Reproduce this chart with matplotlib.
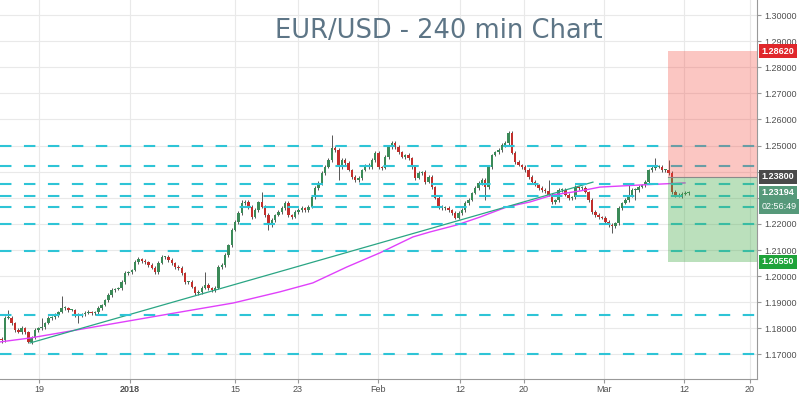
import numpy as np
import matplotlib
matplotlib.use('Agg')
import matplotlib.pyplot as plt
import matplotlib.transforms as mtransforms

# 240-min EUR/USD bars, closes (one value per ~8h)
first_open = 1.1760
closes = [
    1.1755, 1.1840, 1.1840, 1.1820, 1.1794, 1.1786, 1.1801, 1.1786, 1.1748, 1.1763,
    1.1794, 1.1801, 1.1805, 1.1820, 1.1840, 1.1843, 1.1851, 1.1862, 1.1878, 1.1878,
    1.1870, 1.1870, 1.1851, 1.1851, 1.1855, 1.1859, 1.1862, 1.1859, 1.1862, 1.1878,
    1.1889, 1.1908, 1.1928, 1.1947, 1.1951, 1.1954, 1.1977, 1.2012, 1.2016, 1.2023,
    1.2054, 1.2066, 1.2058, 1.2054, 1.2043, 1.2031, 1.2016, 1.2050, 1.2073, 1.2073,
    1.2062, 1.2050, 1.2035,
    1.2031,
    1.2012, 1.1977, 1.1977, 1.1958, 1.1935, 1.1939, 1.1954, 1.1966, 1.1954, 1.1947,
    1.1954, 1.2035, 1.2043, 1.2081, 1.2119, 1.2177, 1.2207, 1.2242, 1.2280, 1.2284,
    1.2265, 1.2226, 1.2253, 1.2284, 1.2265, 1.2234, 1.2196, 1.2215, 1.2234, 1.2246,
    1.2261, 1.2280, 1.2234, 1.2226, 1.2246, 1.2253, 1.2261, 1.2253, 1.2265, 1.2303,
    1.2337, 1.2357, 1.2395, 1.2418, 1.2445, 1.2491, 1.2483, 1.2418, 1.2445,
    1.2433, 1.2406, 1.2380, 1.2368, 1.2376, 1.2406, 1.2426, 1.2418, 1.2445, 1.2472,
    1.2418, 1.2414, 1.2456, 1.2494, 1.2510, 1.2494, 1.2475, 1.2456, 1.2464, 1.2452,
    1.2418, 1.2376, 1.2395, 1.2399, 1.2361, 1.2380, 1.2341, 1.2299, 1.2265, 1.2261,
    1.2261, 1.2253, 1.2242, 1.2223, 1.2242, 1.2253, 1.2280, 1.2292, 1.2318, 1.2337,
    1.2357, 1.2368, 1.2341, 1.2418, 1.2464, 1.2475, 1.2483, 1.2502, 1.2510, 1.2548,
    1.2472,
    1.2437, 1.2426, 1.2418, 1.2406, 1.2380, 1.2361, 1.2349, 1.2337, 1.2330, 1.2326,
    1.2311, 1.2284, 1.2292, 1.2330, 1.2330, 1.2311, 1.2299, 1.2303, 1.2341, 1.2337,
    1.2337, 1.2322, 1.2292, 1.2246, 1.2234, 1.2226, 1.2223, 1.2207, 1.2196, 1.2192,
    1.2203, 1.2261, 1.2280, 1.2292, 1.2311, 1.2330, 1.2330, 1.2341, 1.2349, 1.2361,
    1.2406, 1.2414, 1.2418, 1.2418, 1.2406, 1.2406, 1.2395, 1.2322, 1.2311, 1.2307,
    1.2315, 1.2318, 1.23194,
]
# wick lengths above / below the body, in pips
wick_up = [
    5, 8, 30, 6, 4, 7, 9, 5, 4, 6, 8, 5, 35, 6, 7, 5, 8, 6, 46, 7,
    5, 6, 4, 8, 5, 6, 7, 4, 6, 8, 5, 6, 7, 9, 5, 6, 8, 7, 5, 6,
    9, 7, 5, 6, 4, 8, 6, 7, 9, 5, 6, 7, 5,
    6,
    7, 5, 6, 8, 5, 6, 7, 50, 6, 5, 8, 7, 6, 9, 5, 7, 8, 6, 10, 7,
    6, 8, 9, 5, 38, 7, 6, 8, 5, 9, 7, 6, 8, 5, 7, 6, 9, 5, 8, 6,
    7, 9, 6, 8, 7, 49, 6, 8, 7,
    6, 8, 5, 7, 9, 6, 5, 8, 7, 6, 9, 5, 7, 6, 8, 7, 9, 6, 5, 8,
    6, 7, 9, 5, 8, 6, 7, 5, 9, 6, 8, 7, 5, 6, 9, 7, 8, 6, 5, 7,
    9, 6, 8, 7, 5, 6, 8, 7, 9, 6, 7,
    6, 8, 5, 7, 9, 6, 8, 5, 7, 6, 42, 7, 5, 8, 6, 9, 7, 5, 8, 6,
    7, 9, 5, 6, 8, 7, 5, 6, 9, 7, 6, 8, 5, 7, 38, 6, 8, 7, 5, 9,
    6, 7, 34, 8, 6, 5, 40, 7, 9, 6, 8, 7, 6,
]
wick_dn = [
    10, 6, 5, 8, 7, 5, 6, 9, 4, 7, 5, 8, 6, 7, 5, 9, 6, 8, 5, 7,
    6, 5, 8, 30, 6, 7, 5, 8, 6, 9, 7, 5, 6, 8, 7, 5, 9, 6, 8, 7,
    5, 6, 9, 7, 8, 5, 6, 7, 5, 8, 6, 9, 7,
    7,
    6, 8, 7, 5, 9, 6, 8, 5, 7, 9, 6, 5, 8, 7, 6, 9, 5, 7, 8, 6,
    9, 7, 5, 8, 6, 7, 21, 8, 6, 5, 9, 7, 6, 8, 5, 7, 9, 6, 8, 5,
    7, 6, 9, 8, 5, 7, 6, 48, 8,
    7, 5, 8, 6, 9, 7, 5, 8, 6, 7, 9, 6, 5, 8, 7, 6, 9, 5, 8, 7,
    6, 8, 5, 9, 7, 6, 8, 5, 7, 9, 6, 8, 7, 5, 6, 9, 7, 8, 6, 5,
    7, 9, 49, 6, 8, 5, 7, 6, 9, 8, 6,
    7, 5, 8, 6, 9, 7, 5, 6, 8, 7, 5, 9, 6, 8, 7, 5, 6, 9, 7, 8,
    6, 5, 7, 9, 6, 8, 5, 7, 6, 27, 8, 6, 9, 5, 7, 8, 40, 6, 5, 9,
    7, 8, 6, 5, 7, 9, 6, 8, 7, 5, 9, 6, 7,
]

# 200 MA and trendline (bar index, price)
ma_x = [-0.5, 8.5, 52.0, 69.4, 83.5, 93.3, 103.5, 113.4, 123.3, 128.4, 136.5,
        143.4, 151.5, 158.4, 165.3, 173.4, 179.4, 191.4, 204.9]
ma_y = [1.1748, 1.1763, 1.1859, 1.1897, 1.1940, 1.1974, 1.2035, 1.2089, 1.2150, 1.2169, 1.2196,
        1.2226, 1.2265, 1.2284, 1.2311, 1.2326, 1.2341, 1.2349, 1.2357]
trend_x = [8.5, 177.3]
trend_y = [1.1744, 1.2360]

levels = [1.2500, 1.2420, 1.2352, 1.2305, 1.2265, 1.2200, 1.2095, 1.1850, 1.1700]

tick_pos = [11.2, 38.5, 70.0, 88.8, 112.8, 137.4, 156.6, 180.6, 204.6, 224.4]
tick_labels = ['19', '2018', '15', '23', 'Feb', '12', '20', 'Mar', '12', '20']

entry = 1.2380
target = 1.2862
stop = 1.2055
box_start = 199.8
last_price = 1.23194
countdown = '02:56:49'

plt.rcParams['font.family'] = ['Liberation Sans', 'DejaVu Sans']

fig = plt.figure(figsize=(8, 3.93), dpi=100)
ax = fig.add_axes([0, 14 / 393, 757 / 800, 379 / 393])

closes = np.array(closes)
opens = np.concatenate([[first_open], closes[:-1]])
highs = np.maximum(opens, closes) + np.array(wick_up) / 10000
lows = np.minimum(opens, closes) - np.array(wick_dn) / 10000
x = np.arange(len(closes))
up = closes >= opens
colors = np.where(up, '#3b8a58', '#c22f2c')

ax.vlines(x, lows, highs, color='#555555', lw=0.7, zorder=2)
body = np.maximum(np.abs(closes - opens), 0.00025)
ax.bar(x, body, bottom=np.minimum(opens, closes), width=0.75, color=colors, lw=0, zorder=2.2)

ax.plot(ma_x, ma_y, color='#e040fb', lw=1.0, zorder=2.5)
ax.plot(trend_x, trend_y, color='#2aa584', lw=0.9, zorder=2.5)

for lv in levels:
    ax.axhline(lv, color='#2ec4d6', lw=1.5, dashes=(5.5, 6.0), zorder=3)

xmax = 226.5
ax.fill_between([box_start, xmax], entry, target, color='#f44336', alpha=0.3, lw=0, zorder=4)
ax.fill_between([box_start, xmax], stop, entry, color='#4caf50', alpha=0.38, lw=0, zorder=4)
ax.plot([box_start, xmax], [entry, entry], color='#8a8a8a', lw=0.8, zorder=4.5)

ax.set_xlim(-0.51, xmax)
ax.set_ylim(1.1606, 1.30575)

ax.set_xticks(tick_pos)
ax.set_xticklabels(tick_labels)
for lab in ax.get_xticklabels():
    if lab.get_text() == '2018':
        lab.set_fontweight('bold')
yt = np.arange(1.17, 1.3001, 0.01)
ax.set_yticks(yt)
# labels hidden behind the price tags are left blank
ax.set_yticklabels(['' if round(v, 2) in (1.23, 1.24) else '%.5f' % v for v in yt])
ax.yaxis.tick_right()
ax.tick_params(axis='x', labelsize=6.5, colors='#999999', labelcolor='#505050', length=3, pad=1)
ax.tick_params(axis='y', labelsize=6.5, colors='#999999', labelcolor='#505050', length=3, pad=2)
ax.grid(color='#e9e9e9', lw=0.8)
ax.set_axisbelow(True)
for s in ['top', 'left']:
    ax.spines[s].set_visible(False)
for s in ['right', 'bottom']:
    ax.spines[s].set_color('#999999')

trans = mtransforms.blended_transform_factory(ax.transAxes, ax.transData)
tags = [(target, '1.28620', '#e0272b'), (entry, '1.23800', '#4a4a4a'),
        (last_price, '1.23194', '#56997a'), (stop, '1.20550', '#1fa33a')]
for price, txt, col in tags:
    ax.text(1.006, price, txt, transform=trans, ha='left', va='center', fontsize=6.5,
            color='white', fontweight='bold', clip_on=False, zorder=10,
            bbox=dict(boxstyle='square,pad=0.3', fc=col, ec='none'))
ax.annotate(countdown, xy=(1.006, last_price), xycoords=trans, xytext=(0, -10),
            textcoords='offset points', ha='left', va='center', fontsize=6.5,
            color='white', annotation_clip=False, zorder=10,
            bbox=dict(boxstyle='square,pad=0.3', fc='#56997a', ec='none'))

ax.text(0.58, 0.918, 'EUR/USD - 240 min Chart', transform=ax.transAxes, family='DejaVu Sans',
        ha='center', va='center', fontsize=18.5, color='#5d7586')

fig.savefig('out.png', dpi=100)
